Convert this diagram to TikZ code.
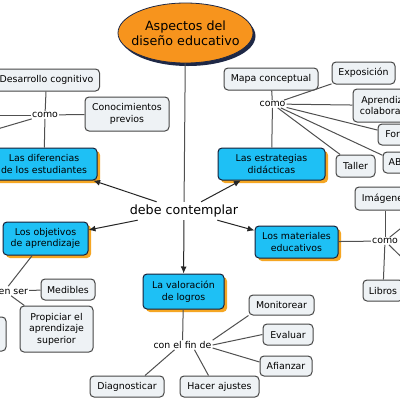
\documentclass[tikz,border=0pt]{standalone}
\usepackage{fontspec}
\setmainfont{DejaVu Sans}
\usetikzlibrary{arrows.meta,shapes.geometric,shadows}
\definecolor{cyanbox}{RGB}{30,192,245}
\definecolor{orshadow}{RGB}{245,166,35}
\definecolor{ellorange}{RGB}{247,148,29}
\definecolor{navy}{RGB}{30,40,70}
\definecolor{lightbox}{RGB}{238,242,245}
\definecolor{boxline}{RGB}{70,70,70}
\definecolor{conn}{RGB}{80,80,80}
\tikzset{
  lbox/.style={draw=boxline, line width=1pt, fill=lightbox, rounded corners=4pt,
    inner sep=0pt, align=center, font=\fontsize{9.4}{11.5}\selectfont},
  cbox/.style={draw=navy!80!black, line width=1pt, fill=cyanbox, rounded corners=4pt,
    inner sep=0pt, align=center, font=\fontsize{9.4}{11.5}\selectfont,
    drop shadow={shadow xshift=3pt, shadow yshift=-3pt, fill=orshadow, opacity=1}},
  lbl/.style={inner sep=1pt, font=\fontsize{9.4}{11.5}\selectfont},
  conline/.style={draw=conn, line width=1pt},
  arr/.style={draw=black!85, line width=1pt, -{Latex[length=7pt,width=6pt]}},
}
\begin{document}
\begin{tikzpicture}[x=1pt,y=-1pt]
\useasboundingbox (0,0) rectangle (400,400);
\clip (0,0) rectangle (400,400);
\fill[white] (0,0) rectangle (400,400);

% central ellipse
\fill[navy] (188,36) ellipse (67.5pt and 30pt);
\node[ellipse, draw=navy, line width=0.8pt, fill=ellorange, minimum width=135pt, minimum height=60pt,
  inner sep=0pt] (root) at (185.5,33) {};
\node[align=center, inner sep=0pt, font=\fontsize{12.7}{15}\selectfont] (roottext) at (root.center) {Aspectos del\\diseño educativo};

\node[inner sep=0pt, minimum width=108pt, minimum height=18pt, font=\fontsize{12.7}{15}\selectfont] (debe) at (184,211) {debe contemplar};

% cyan boxes
\node[cbox, minimum width=106pt, minimum height=32pt] (dife) at (44,164) {Las diferencias\\de los estudiantes};
\node[cbox, minimum width=107pt, minimum height=32pt] (estr) at (271.5,164) {Las estrategias\\didácticas};
\node[cbox, minimum width=85pt, minimum height=33pt] (obje) at (45.5,238.5) {Los objetivos\\de aprendizaje};
\node[cbox, minimum width=83pt, minimum height=32pt] (mate) at (296.5,242) {Los materiales\\educativos};
\node[cbox, minimum width=81pt, minimum height=35pt] (valo) at (183.5,291.5) {La valoración\\de logros};

% labels
\node[lbl] (como1) at (45,115) {como};
\node[lbl] (como2) at (272.5,104) {como};
\node[lbl] (como3) at (385,241) {como};
\node[lbl] (deben) at (4.5,291) {deben ser};
\node[lbl] (confin) at (182.5,345) {con el fin de};

% light boxes
\node[lbox, minimum width=106pt, minimum height=22pt] (desa) at (46.5,80) {Desarrollo cognitivo};
\node[lbox, minimum width=84pt, minimum height=34pt] (cono) at (127,114) {Conocimientos\\previos};
\node[lbox, minimum width=94pt, minimum height=22pt] (mapa) at (271,79) {Mapa conceptual};
\node[lbox, minimum width=63pt, minimum height=22pt] (expo) at (363.5,73) {Exposición};
\node[lbox, minimum width=72pt, minimum height=33pt] (apre) at (389,105.5) {Aprendizaje\\colaborativo};
\node[lbox, minimum width=35pt, minimum height=21pt] (foro) at (395.5,134.5) {Foro};
\node[lbox, minimum width=30pt, minimum height=21pt] (abp) at (398,162.5) {ABP};
\node[lbox, minimum width=39pt, minimum height=22pt] (taller) at (355.5,166) {Taller};
\node[lbox, minimum width=60pt, minimum height=23pt] (imag) at (385,198.5) {Imágenes};
\node[lbox, minimum width=40pt, minimum height=21pt] (libros) at (383,290.5) {Libros};
\node[lbox, minimum width=54pt, minimum height=21pt] (medi) at (68,289.5) {Medibles};
\node[lbox, minimum width=73pt, minimum height=46pt] (prop) at (56.5,329) {Propiciar el\\aprendizaje\\superior};
\node[lbox, minimum width=66pt, minimum height=34pt] (hidd) at (-27,334) {};
\node[lbox, minimum width=65pt, minimum height=20pt] (mon) at (281.5,305) {Monitorear};
\node[lbox, minimum width=50pt, minimum height=21pt] (eval) at (288,334.5) {Evaluar};
\node[lbox, minimum width=52pt, minimum height=20pt] (afia) at (286,366) {Afianzar};
\node[lbox, minimum width=74pt, minimum height=21pt] (diag) at (127,386.5) {Diagnosticar};
\node[lbox, minimum width=79pt, minimum height=21pt] (hacer) at (219.5,386.5) {Hacer ajustes};

% off-picture ends
\coordinate (offA) at (-40,115);
\coordinate (offB) at (-40,140);
\coordinate (offC) at (430,205);
\coordinate (offD) at (430,285);

% connectors
\draw[conline] (root) -- (debe);
\draw[arr] (debe) -- (dife);
\draw[arr] (debe) -- (estr);
\draw[arr] (debe) -- (obje);
\draw[arr] (debe) -- (mate);
\draw[arr] (debe) -- (valo);

\draw[conline] (dife) -- (como1);
\draw[conline] (como1) -- (desa);
\draw[conline] (como1) -- (cono);
\draw[conline] (como1) -- (offA);
\draw[conline] (como1) -- (offB);

\draw[conline] (estr) -- (como2);
\draw[conline] (como2) -- (mapa);
\draw[conline] (como2) -- (expo);
\draw[conline] (como2) -- (apre);
\draw[conline] (como2) -- (foro);
\draw[conline] (como2) -- (abp);
\draw[conline] (como2) -- (taller);

\draw[conline] (mate) -- (como3);
\draw[conline] (como3) -- (imag);
\draw[conline] (como3) -- (libros);
\draw[conline] (como3) -- (offC);
\draw[conline] (como3) -- (offD);

\draw[conline] (obje) -- (deben);
\draw[conline] (deben) -- (medi);
\draw[conline] (deben) -- (prop);

\draw[conline] (valo) -- (confin);
\draw[conline] ([xshift=-8pt]confin.south) -- ([xshift=18pt]diag.north);
\draw[conline] ([xshift=12pt]confin.south) -- ([xshift=-11pt]hacer.north);
\draw[conline] (confin.north east) -- (mon.south west);
\draw[conline] (confin.east) -- (eval.west);
\draw[conline] ([yshift=-3pt]confin.east) -- ([yshift=4pt]afia.west);
\end{tikzpicture}
\end{document}
